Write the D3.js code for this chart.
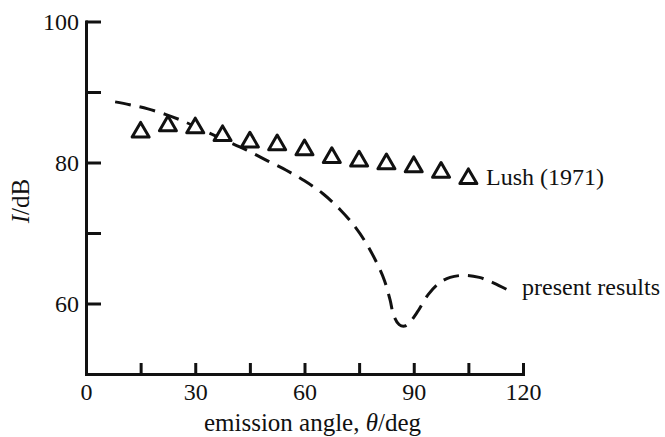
<!DOCTYPE html>
<html>
<head>
<meta charset="utf-8">
<script src="https://cdn.jsdelivr.net/npm/d3@7"></script>
<style>
  body { margin: 0; background: #fff; }
  svg { display: block; }
  text { font-family: "Liberation Serif", "DejaVu Serif", serif; fill: #111; }
</style>
</head>
<body>
<svg id="chart" width="665" height="437"></svg>
<script>
// Lush (1971) measurements
const lushAngle = [15, 22.5, 30, 37.5, 45, 52.5, 60, 67.5, 75, 82.5, 90, 97.5, 105];
const lushLevel = [84.3, 85.2, 84.9, 83.8, 82.9, 82.5, 81.8, 80.7, 80.2, 79.8, 79.4, 78.6, 77.7];

// present results (dashed curve)
const curveAngle = [8, 12, 17, 22, 27, 32, 38, 44, 50, 55, 60, 65, 70, 74, 77, 80, 82, 83.5, 84.5, 86, 87.5, 89, 91, 94, 97, 100, 104, 108, 112, 117];
const curveLevel = [88.6, 88.2, 87.6, 86.8, 85.8, 84.6, 83.2, 81.8, 80.2, 78.9, 77.4, 75.6, 73.2, 70.8, 68.5, 65.6, 63.2, 60.5, 58.3, 57.0, 56.8, 57.4, 58.8, 61.3, 62.9, 63.7, 64.0, 63.7, 62.9, 61.6];

const xTicks = [0, 15, 30, 45, 60, 75, 90, 105, 120];
const xTickLabels = [0, 30, 60, 90, 120];
const yTicks = [60, 70, 80, 90, 100];
const yTickLabels = [60, 80, 100];

const svg = d3.select("#chart");

const x = d3.scaleLinear().domain([0, 120]).range([86, 523]);
const y = d3.scaleLinear().domain([50, 100]).range([374, 21.5]);

// axes
const axisX = d3.axisBottom(x)
  .tickValues(xTicks)
  .tickSizeInner(-11)
  .tickSizeOuter(0)
  .tickFormat(d => xTickLabels.includes(d) ? d : "");

const axisY = d3.axisLeft(y)
  .tickValues(yTicks)
  .tickSizeInner(-15)
  .tickSizeOuter(0)
  .tickFormat(d => yTickLabels.includes(d) ? d : "");

const gx = svg.append("g")
  .attr("transform", `translate(0, ${y(50)})`)
  .call(axisX);

const gy = svg.append("g")
  .attr("transform", `translate(${x(0)}, 0)`)
  .call(axisY);

[gx, gy].forEach(g => {
  g.attr("font-size", null).attr("font-family", null);
  g.select(".domain").attr("stroke", "#111").attr("stroke-width", 3).attr("stroke-linecap", "square");
  g.selectAll(".tick line").attr("stroke", "#111").attr("stroke-width", 3);
  g.selectAll(".tick text")
    .style("font-size", "24px")
    .attr("fill", "#111");
});

gx.selectAll(".tick text").attr("y", 9).attr("dy", "0.71em");
gy.selectAll(".tick text").attr("x", -7).attr("dy", "0.34em");

// axis titles
svg.append("text")
  .attr("x", (x(0) + x(120)) / 2 + 8)
  .attr("y", 431)
  .attr("text-anchor", "middle")
  .style("font-size", "25px")
  .html("emission angle, <tspan font-style='italic'>θ</tspan>/deg");

svg.append("text")
  .attr("transform", "translate(29, 201) rotate(-90)")
  .attr("text-anchor", "middle")
  .style("font-size", "25px")
  .html("<tspan font-style='italic'>I</tspan>/dB");

// dashed curve
const line = d3.line()
  .x((d, i) => x(curveAngle[i]))
  .y(d => y(d))
  .curve(d3.curveCatmullRom.alpha(0.5));

svg.append("path")
  .datum(curveLevel)
  .attr("fill", "none")
  .attr("stroke", "#111")
  .attr("stroke-width", 3)
  .attr("stroke-dasharray", "16,9")
  .attr("d", line);

// triangles
const tri = d3.symbol().type(d3.symbolTriangle).size(125);

svg.selectAll(".lush")
  .data(lushLevel)
  .enter()
  .append("path")
  .attr("class", "lush")
  .attr("transform", (d, i) => `translate(${x(lushAngle[i])}, ${y(d)})`)
  .attr("d", tri)
  .attr("fill", "#fff")
  .attr("stroke", "#111")
  .attr("stroke-width", 3)
  .attr("stroke-linejoin", "round");

// labels
svg.append("text")
  .attr("x", 486)
  .attr("y", 185)
  .style("font-size", "24px")
  .text("Lush (1971)");

svg.append("text")
  .attr("x", 522)
  .attr("y", 295)
  .style("font-size", "24px")
  .text("present results");
</script>
</body>
</html>
